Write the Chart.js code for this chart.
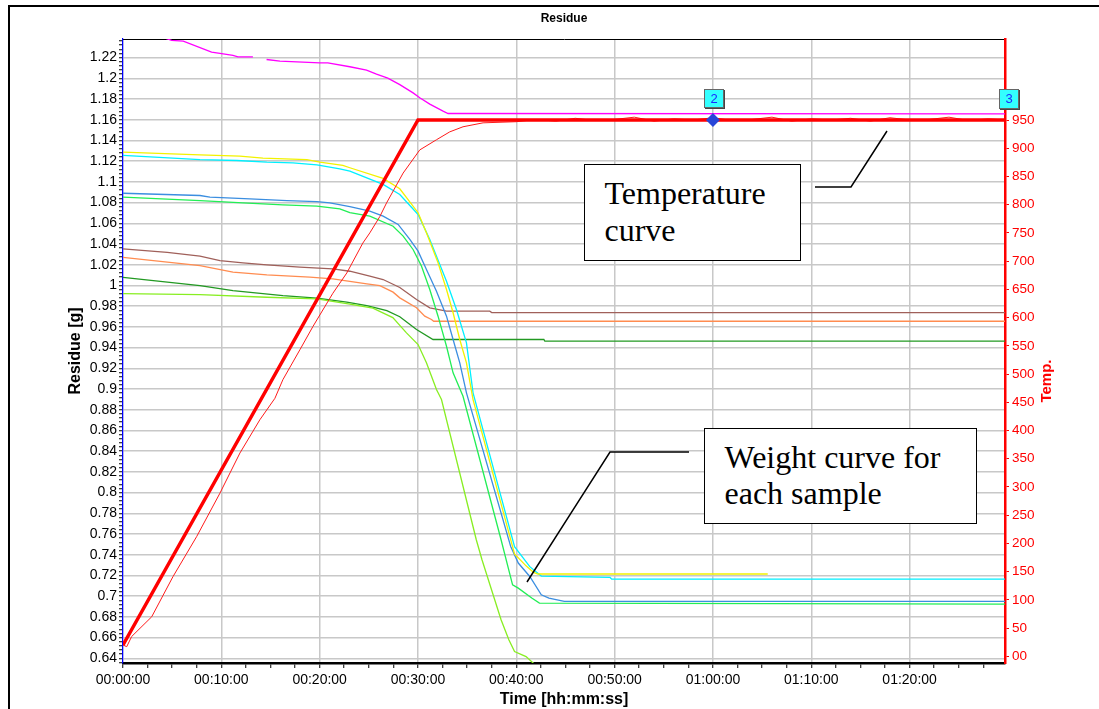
<!DOCTYPE html>
<html><head><meta charset="utf-8">
<script src="https://cdn.jsdelivr.net/npm/chart.js@4"></script>
<style>
html,body{margin:0;padding:0;background:#fff;}
#wrap{position:relative;width:1099px;height:709px;overflow:hidden;background:#fff;}
#c{position:absolute;left:0;top:0;}
.frame{position:absolute;left:8px;top:5px;width:1300px;height:900px;border-left:2px solid #000;border-top:2px solid #000;}
.note{position:absolute;border:1.5px solid #000;background:#fff;font-family:"Liberation Serif","Times New Roman",serif;font-size:32px;color:#000;box-sizing:border-box;white-space:nowrap;}
.cur{position:absolute;background:#33ffff;border:1px solid #666;box-shadow:1px 1px 0 #444;color:#1a2cff;font:13px "Liberation Sans",Arial,sans-serif;text-align:center;box-sizing:border-box;}
svg{position:absolute;left:0;top:0;}
</style>
</head><body>
<div id="wrap">
<div class="frame"></div>
<canvas id="c" width="1099" height="709"></canvas>
<svg width="1099" height="709">
<polyline points="815,187 851,187 887,131" fill="none" stroke="#000" stroke-width="1.5"/>
<polyline points="689,452 610,452 527,582" fill="none" stroke="#000" stroke-width="1.5"/>
</svg>
<div class="note" style="left:584px;top:164px;width:217px;height:97px;padding:9.5px 0 0 19.5px;line-height:37px;">Temperature<br>curve</div>
<div class="note" style="left:704px;top:428px;width:273px;height:96px;padding:10px 0 0 19.5px;line-height:36px;">Weight curve for<br>each sample</div>
<div class="cur" style="left:704px;top:89px;width:20px;height:19px;line-height:17px;">2</div>
<div class="cur" style="left:999px;top:89px;width:20px;height:20px;line-height:18px;">3</div>
</div>
<script>
// ---------- data (time in minutes) ----------
const xMin = 0, xMax = 89.7;
const residueMin = 0.6355, residueMax = 1.2379;
const tempMin = -11.9, tempMax = 1093.5;
const tempTicks = [0,50,100,150,200,250,300,350,400,450,500,550,600,650,700,750,800,850,900,950];

const programT = [0, 30, 89.7];
const programV = [20, 950, 950];

const furnaceT = [0, 0.38, 0.88, 2.92, 5.08, 7.49, 9.86, 11.89, 13.92, 15.45, 16.26, 17.99, 19.31, 21.34, 22.76, 24.39, 25.1, 26.12, 26.8, 28.49, 30.18, 31.88, 33.23, 34.58, 36.62, 40.01, 42, 44, 46, 48, 50, 52, 54, 56, 58, 60, 62, 64, 66, 68, 70, 72, 74, 76, 78, 80, 82, 84, 86, 88, 89.7];
const furnaceV = [20, 17, 35, 70, 141, 212, 289, 360, 419, 457, 490, 543, 584, 643, 679, 732, 750, 779, 803, 856, 897, 915, 929, 938, 945, 947, 951, 948, 953, 949, 951, 955, 948, 952, 950, 954, 949, 951, 955, 948, 952, 950, 953, 948, 954, 950, 951, 955, 949, 952, 950];

const cursorT = [60];
const cursorV = [950];

const magentaT = [0, 3, 4.95, 6.13, 9.01, 10.03, 11.18, 11.69, 13.21, 13.9, 14.6, 15.96, 20.02, 20.83, 23.07, 24.77, 25.78, 26.93, 28.15, 29.5, 30.18, 31.2, 32.55, 33.06, 89.7];
const magentaV = [1.25, 1.243, 1.2365, 1.2358, 1.2253, 1.2238, 1.2222, 1.2206, 1.2206, null, 1.2181, 1.2165, 1.2149, 1.2149, 1.2111, 1.2079, 1.2039, 1.2001, 1.1939, 1.1859, 1.1811, 1.175, 1.1683, 1.166, 1.1657];

const yellowT = [0, 7.83, 11.89, 14.23, 18.7, 20.02, 22.36, 23.07, 26.45, 28.15, 30.01, 30.86, 32.04, 32.9, 33.57, 34.25, 34.93, 35.6, 39.82, 40.99, 41.76, 42.2, 65.57];
const yellowV = [1.1287, 1.1261, 1.1248, 1.1229, 1.1215, 1.119, 1.1158, 1.1136, 1.1033, 1.0933, 1.0702, 1.0508, 1.0219, 0.9961, 0.9736, 0.9478, 0.9253, 0.8898, 0.7407, 0.7293, 0.7229, 0.7214, 0.7214];

const cyanT = [0, 7.83, 11.59, 14.63, 17.28, 19.72, 22.05, 23.07, 26.45, 28.15, 30.01, 31.2, 32.9, 33.91, 34.93, 35.6, 39.82, 41.37, 42.54, 49.54, 49.7, 89.7];
const cyanV = [1.1255, 1.1215, 1.1206, 1.119, 1.1184, 1.1164, 1.1126, 1.1103, 1.0975, 1.0878, 1.0685, 1.0444, 1.0041, 0.9767, 0.9446, 0.8963, 0.7478, 0.7285, 0.7194, 0.7181, 0.7165, 0.7165];

const blueT = [0, 7.83, 8.84, 12.91, 16.67, 19.72, 21.04, 23.07, 25.1, 26.45, 27.98, 29.17, 30.01, 30.86, 31.88, 32.9, 33.57, 34.25, 34.93, 39.43, 40.2, 41.37, 42.54, 43.32, 44.88, 89.7];
const blueV = [1.089, 1.0868, 1.0852, 1.0836, 1.0819, 1.081, 1.0796, 1.076, 1.0717, 1.0669, 1.0589, 1.0444, 1.0331, 1.0154, 0.9944, 0.9703, 0.9478, 0.9253, 0.8963, 0.748, 0.732, 0.719, 0.7014, 0.6982, 0.6949, 0.6949];

const greenT = [0, 7.83, 12.2, 16.26, 19.72, 22.05, 23.07, 25.1, 27.47, 28.49, 29.5, 30.36, 31.2, 32.04, 32.9, 33.57, 34.58, 38.45, 39.62, 40.2, 41.57, 42.35, 89.7];
const greenV = [1.0852, 1.0819, 1.0797, 1.0778, 1.0765, 1.0739, 1.0702, 1.0669, 1.0572, 1.0476, 1.0347, 1.0186, 0.9961, 0.9703, 0.9413, 0.9156, 0.893, 0.7545, 0.711, 0.7078, 0.6982, 0.6933, 0.6924];

const limeT = [0, 7.83, 14.63, 19.72, 23.07, 25.41, 27.44, 28.83, 30.01, 30.86, 31.88, 32.39, 35.93, 36.51, 37.48, 38.45, 39.24, 39.82, 40.99, 42.0];
const limeV = [0.992, 0.9911, 0.9886, 0.987, 0.982, 0.978, 0.969, 0.9542, 0.9429, 0.9253, 0.8995, 0.8898, 0.7545, 0.7352, 0.7062, 0.6772, 0.6579, 0.6465, 0.6417, 0.633];

const brownT = [0, 4.5, 7.83, 9.86, 12.2, 14.63, 17.99, 21.34, 23.07, 25.1, 26.45, 28.15, 29.85, 31.2, 32.9, 37.3, 37.5, 89.7];
const brownV = [1.0352, 1.032, 1.0282, 1.024, 1.0218, 1.0198, 1.0176, 1.016, 1.0137, 1.0089, 1.0057, 0.998, 0.9864, 0.9784, 0.9751, 0.9751, 0.9738, 0.9738];

const orangeT = [0, 7.83, 11.18, 14.63, 19.0, 21.34, 24.8, 26.12, 27.47, 28.15, 29.85, 30.69, 31.37, 31.6, 89.7];
const orangeV = [1.0271, 1.0192, 1.0128, 1.0102, 1.008, 1.0063, 1.0015, 0.9998, 0.9935, 0.988, 0.9784, 0.9703, 0.9671, 0.9654, 0.9654];

const darkGreenT = [0, 3.8, 7.83, 11.18, 16.26, 19.72, 22.76, 24.8, 26.83, 28.15, 29.85, 31.53, 42.8, 42.9, 89.7];
const darkGreenV = [1.0077, 1.004, 0.9998, 0.995, 0.9902, 0.9877, 0.9838, 0.9805, 0.9757, 0.9698, 0.9574, 0.9478, 0.9478, 0.9462, 0.9462];

// ---------- chart ----------
const pts = (ts, vs) => ts.map((t, i) => ({x: t, y: vs[i]}));
const hms = m => { const s = Math.round(m * 60); return [Math.floor(s / 3600), Math.floor(s % 3600 / 60), s % 60].map(n => String(n).padStart(2, '0')).join(':'); };
const isMajorY = v => Math.abs(v * 50 - Math.round(v * 50)) < 1e-6;
const isMajorX = v => Math.abs(v / 10 - Math.round(v / 10)) < 1e-6;
const GRID = '#c8c8c8';

Chart.defaults.font.family = '"Liberation Sans", Arial, sans-serif';
Chart.defaults.color = '#000';

function line(label, ts, vs, color, width, axis) {
  return {label, data: pts(ts, vs), borderColor: color, backgroundColor: color, borderWidth: width, yAxisID: axis, xAxisID: 'x', pointRadius: 0, tension: 0, fill: false, spanGaps: false};
}

const tempTitle = {
  id: 'tempTitle',
  afterDraw(chart) {
    const s = chart.scales.yT, ctx = chart.ctx;
    ctx.save();
    ctx.translate(s.left + 42, (s.top + s.bottom) / 2 + 30);
    ctx.rotate(-Math.PI / 2);
    ctx.font = 'bold 15px "Liberation Sans", Arial, sans-serif';
    ctx.fillStyle = '#ff0000';
    ctx.textAlign = 'center';
    ctx.textBaseline = 'middle';
    ctx.fillText('Temp.', 0, 0);
    ctx.restore();
  }
};

new Chart(document.getElementById('c'), {
  type: 'line',
  data: {
    datasets: [
      Object.assign(line('Cursor', cursorT, cursorV, '#1f3cc8', 0, 'yT'), {showLine: false, pointRadius: 7, pointStyle: 'rectRot', pointBorderColor: '#1f3cc8', pointBackgroundColor: '#2846d8'}),
      line('Programme', programT, programV, '#ff0000', 3.5, 'yT'),
      line('Furnace', furnaceT, furnaceV, '#ff1a1a', 1, 'yT'),
      line('Sample 1', magentaT, magentaV, '#ff00ff', 1.3, 'y'),
      line('Sample 2', yellowT, yellowV, '#f2f200', 1.3, 'y'),
      line('Sample 3', cyanT, cyanV, '#00f0ff', 1.3, 'y'),
      line('Sample 4', blueT, blueV, '#3b8ee0', 1.3, 'y'),
      line('Sample 5', greenT, greenV, '#22ee55', 1.3, 'y'),
      line('Sample 6', limeT, limeV, '#88ee22', 1.3, 'y'),
      line('Sample 7', brownT, brownV, '#a0605a', 1.3, 'y'),
      line('Sample 8', orangeT, orangeV, '#ff8c50', 1.3, 'y'),
      line('Sample 9', darkGreenT, darkGreenV, '#229922', 1.3, 'y')
    ]
  },
  options: {
    responsive: false,
    animation: false,
    devicePixelRatio: 1,
    layout: {padding: 0},
    plugins: {
      legend: {display: false},
      tooltip: {enabled: false},
      title: {display: true, text: 'Residue', fullSize: false, color: '#000',
        font: {size: 12, weight: 'bold', lineHeight: 1.2}, padding: {top: 11, bottom: 13.6}}
    },
    scales: {
      x: {
        type: 'linear', position: 'bottom', min: xMin, max: xMax,
        afterBuildTicks: s => { const t = []; for (let v = 0; v <= xMax + 1e-9; v += 2.5) t.push({value: +v.toFixed(4)}); s.ticks = t; },
        afterFit: s => { s.height = 46; },
        ticks: {autoSkip: false, maxRotation: 0, padding: 4, color: '#000', font: {size: 14},
          callback: v => isMajorX(v) ? hms(v) : ''},
        grid: {color: c => (c.tick && isMajorX(c.tick.value)) ? GRID : 'rgba(0,0,0,0)', lineWidth: 1.5,
          tickColor: '#000', tickLength: 5, tickWidth: 1},
        border: {color: '#000', width: 2.5},
        title: {display: true, text: 'Time [hh:mm:ss]', color: '#000', font: {size: 16, weight: 'bold'}, padding: {top: 0, bottom: 0}}
      },
      xTop: {
        type: 'linear', position: 'top', min: xMin, max: xMax, display: true,
        afterFit: s => { s.height = 0; },
        ticks: {display: false},
        grid: {drawOnChartArea: false, drawTicks: false},
        border: {color: '#000', width: 1}
      },
      y: {
        type: 'linear', position: 'left', min: residueMin, max: residueMax,
        afterBuildTicks: s => { const t = []; for (let k = Math.ceil(residueMin / 0.004); k * 0.004 <= residueMax + 1e-9; k++) t.push({value: +(k * 0.004).toFixed(4)}); s.ticks = t; },
        afterFit: s => { s.width = 123; },
        ticks: {autoSkip: false, padding: 2, color: '#000', font: {size: 14},
          callback: v => isMajorY(v) ? String(+v.toFixed(2)) : ''},
        grid: {color: c => (c.tick && isMajorY(c.tick.value)) ? GRID : 'rgba(0,0,0,0)', lineWidth: 1.5,
          tickColor: '#000', tickLength: 4, tickWidth: 1},
        border: {color: '#0000ff', width: 1.2},
        title: {display: true, text: 'Residue [g]', color: '#000', font: {size: 16, weight: 'bold'}, padding: {top: 66.4, bottom: 0}}
      },
      yT: {
        type: 'linear', position: 'right', min: tempMin, max: tempMax,
        afterBuildTicks: s => { s.ticks = tempTicks.map(v => ({value: v})); },
        afterFit: s => { s.width = 94; },
        ticks: {autoSkip: false, padding: 3, color: '#ff0000', font: {size: 13.5},
          callback: v => v === 0 ? '00' : String(v)},
        grid: {drawOnChartArea: false, tickColor: '#ff0000', tickLength: 4, tickWidth: 1},
        border: {color: '#ff0000', width: 2.5}
      }
    }
  },
  plugins: [tempTitle]
});
</script>
</body></html>
